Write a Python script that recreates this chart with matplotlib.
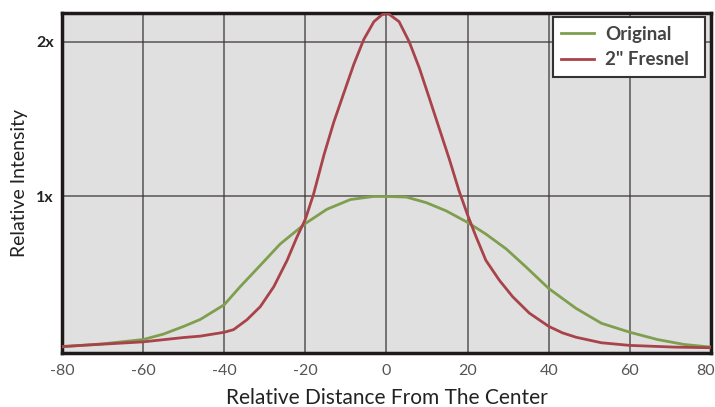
import numpy as np
import matplotlib
matplotlib.use("Agg")
from matplotlib import pyplot as plt
from matplotlib.transforms import ScaledTranslation

# values
x_orig = [-80, -70, -60, -55, -50, -45.9, -40, -36.1, -31.1, -26.2, -20, -14.7, -8.9,
          -3.2, 0, 4.9, 9.8, 14.7, 20, 24.5, 29.5, 34.4, 40, 46.7, 53, 60, 66.8,
          73.4, 80]
y_orig = [0.028, 0.047, 0.075, 0.11, 0.16, 0.205, 0.30, 0.416, 0.555, 0.693, 0.825,
          0.917, 0.98, 1.0, 1.0, 0.996, 0.96, 0.907, 0.832, 0.757, 0.661, 0.544,
          0.405, 0.277, 0.18, 0.122, 0.075, 0.043, 0.026]

x_fres = [-80, -70, -60, -50, -45.9, -40, -37.7, -34.4, -31.1, -27.8, -24.5, -22.1,
          -20, -18, -15.4, -13, -10.5, -8.05, -5.6, -3.1, -1.1, 0.3, 3.1, 5.6, 8.1,
          10.5, 13, 15.5, 17.9, 20, 22, 24.5, 27.8, 31.1, 35.2, 40, 43.4, 46.7, 53,
          60, 71, 80]
y_fres = [0.03, 0.045, 0.06, 0.088, 0.097, 0.122, 0.139, 0.203, 0.288, 0.416, 0.587,
          0.736, 0.853, 1.013, 1.27, 1.48, 1.67, 1.855, 2.015, 2.13, 2.175, 2.185,
          2.13, 2.0, 1.83, 1.64, 1.44, 1.24, 1.035, 0.88, 0.745, 0.587, 0.459, 0.352,
          0.246, 0.16, 0.118, 0.09, 0.054, 0.037, 0.026, 0.022]

xticks = [-80, -60, -40, -20, 0, 20, 40, 60, 80]
yticks = [1, 2]
ytick_labels = ["1x", "2x"]

plt.rcParams['font.family'] = ['Lato', 'DejaVu Sans']
plt.rcParams['axes.unicode_minus'] = False

fig = plt.figure(figsize=(7.15, 4.07), dpi=100)
ax = fig.add_axes([0.0867, 0.1327, 0.9077, 0.835])
ax.set_facecolor("#e0e0e0")

ax.plot(x_orig, y_orig, color="#7f9e4e", lw=2, label="Original", zorder=3,
        solid_joinstyle="round")
ax.plot(x_fres, y_fres, color="#a8434a", lw=2, label='2" Fresnel', zorder=3,
        solid_joinstyle="round")

ax.set_xlim(-80, 80)
ax.set_ylim(-0.012, 2.185)
ax.set_xticks(xticks)
ax.set_yticks(yticks)
ax.set_yticklabels(ytick_labels, fontweight="bold", fontsize=11.5, color="#222222")
ax.tick_params(axis="x", length=0, labelsize=11.5, labelcolor="#555555", pad=8)
ax.tick_params(axis="y", length=0, pad=6)
ax.grid(True, color="#3a3434", lw=1.2, alpha=0.75)
ax.set_axisbelow(True)
for s in ax.spines.values():
    s.set_color("#1e1a1a")
    s.set_linewidth(2.5)

# last x label sits a bit left so it stays inside the figure
lbl = ax.get_xticklabels()[-1]
lbl.set_transform(lbl.get_transform() + ScaledTranslation(-0.05, 0, fig.dpi_scale_trans))

ax.set_xlabel("Relative Distance From The Center", fontsize=15, color="#222222", labelpad=7)
ax.set_ylabel("Relative Intensity", fontsize=14, color="#222222", labelpad=6)

leg = ax.legend(loc="upper right", prop={"weight": "bold", "size": 13.5},
                fancybox=False, framealpha=1, edgecolor="#333333", borderpad=0.45,
                handlelength=1.75, handletextpad=0.6, borderaxespad=0,
                labelspacing=0.45, mode="expand",
                bbox_to_anchor=(0.7565, 0.0, 0.2342, 0.988))
leg.get_frame().set_linewidth(1.5)
for t in leg.get_texts():
    t.set_color("#444444")

plt.savefig("out.png", dpi=100)
